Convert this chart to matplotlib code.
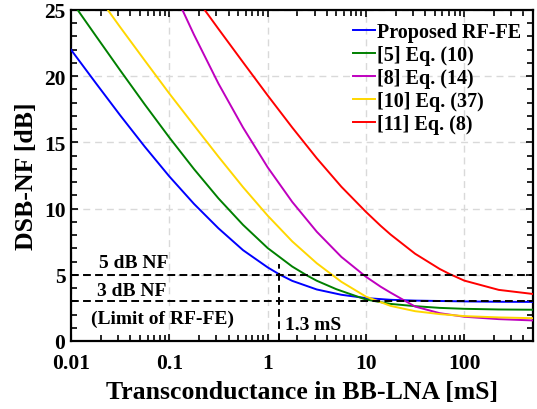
import numpy as np
import matplotlib
matplotlib.use("Agg")
import matplotlib.pyplot as plt
from matplotlib.ticker import LogLocator, MultipleLocator, NullFormatter

# NF curves vs. BB-LNA transconductance (gm in mS, NF in dB)
gm_prop = [0.01, 0.0178, 0.0316, 0.0562, 0.1, 0.178, 0.316, 0.562, 1.0, 1.33, 1.78, 3.16,
           5.62, 10, 17.8, 31.6, 56.2, 100, 224, 500]
nf_prop = [22.0, 19.5, 17.05, 14.68, 12.43, 10.36, 8.51, 6.86, 5.56, 5.01, 4.54, 3.89,
           3.49, 3.24, 3.11, 3.05, 3.02, 2.99, 2.96, 2.95]

gm_ref5 = [0.0117, 0.0178, 0.0316, 0.0562, 0.1, 0.178, 0.316, 0.562, 1.0, 1.78, 2.51, 3.16,
           5.0, 10, 17.8, 31.6, 56.2, 100, 224, 500]
nf_ref5 = [25.0, 23.07, 20.45, 17.87, 15.37, 12.99, 10.77, 8.77, 7.02, 5.62, 4.95, 4.55,
           3.91, 3.13, 2.80, 2.63, 2.50, 2.43, 2.38, 2.36]

gm_ref8 = [0.136, 0.178, 0.316, 0.562, 1.0, 1.78, 3.16, 5.62, 10, 14.1, 17.8, 31.6,
           56.2, 100, 224, 500]
nf_ref8 = [25.0, 23.14, 19.44, 16.12, 13.12, 10.5, 8.25, 6.35, 4.85, 4.1, 3.65, 2.6,
           2.1, 1.83, 1.65, 1.55]

gm_ref10 = [0.0237, 0.0316, 0.0562, 0.1, 0.178, 0.316, 0.562, 1.0, 1.78, 3.16, 4.39, 5.62,
            10, 17.8, 31.6, 56.2, 100, 224, 500]
nf_ref10 = [25.0, 23.71, 21.19, 18.69, 16.29, 13.92, 11.62, 9.47, 7.52, 5.87, 5.07, 4.47,
            3.35, 2.65, 2.25, 2.03, 1.88, 1.78, 1.72]

gm_ref11 = [0.229, 0.316, 0.562, 1.0, 1.78, 3.16, 5.62, 10, 14.1, 17.8, 31.6, 56.2,
            70.8, 100, 224, 500]
nf_ref11 = [25.0, 23.57, 21.05, 18.55, 16.12, 13.8, 11.65, 9.75, 8.7, 8.04, 6.59, 5.44,
            5.06, 4.56, 3.86, 3.55]

labels = ["Proposed RF-FE", "[5] Eq. (10)", "[8] Eq. (14)", "[10] Eq. (37)", "[11] Eq. (8)"]
colors = ["#0000ff", "#008000", "#bf00bf", "#ffd700", "#ff0000"]

xticks = [0.01, 0.1, 1, 10, 100]
xtick_labels = ["0.01", "0.1", "1", "10", "100"]
yticks = [0, 5, 10, 15, 20, 25]

nf_limits = [5, 3]   # dB reference levels
gm_marker = 1.3      # mS where proposed design reaches 5 dB

plt.rcParams["font.family"] = ["Liberation Serif", "DejaVu Serif"]
plt.rcParams["font.weight"] = "bold"

fig = plt.figure(figsize=(5.37, 4.10), dpi=100)
ax = fig.add_axes([0.1322, 0.1659, 0.8604, 0.8073])

curves = [(gm_prop, nf_prop), (gm_ref5, nf_ref5), (gm_ref8, nf_ref8),
          (gm_ref10, nf_ref10), (gm_ref11, nf_ref11)]
for (x, y), lab, c in zip(curves, labels, colors):
    ax.plot(x, y, color=c, lw=1.4, label=lab, zorder=3)

# reference lines
dash = dict(color="black", lw=1.4, ls=(0, (4, 2.2)), zorder=4)
for lvl in nf_limits:
    ax.plot([0.01, 500], [lvl, lvl], **dash)
ax.plot([gm_marker, gm_marker], [0, 5.8], **dash)

ax.text(0.0434, 5.25, "5 dB NF", ha="center", va="bottom", fontsize=14, fontweight="bold")
ax.text(0.041, 3.15, "3 dB NF", ha="center", va="bottom", fontsize=14, fontweight="bold")
ax.text(0.0855, 1.73, "(Limit of RF-FE)", ha="center", va="center", fontsize=14, fontweight="bold")
ax.text(1.5, 1.24, "1.3 mS", ha="left", va="center", fontsize=14, fontweight="bold")

ax.set_xscale("log")
ax.set_xlim(0.01, 500)
ax.set_ylim(0, 25)
ax.set_xticks(xticks)
ax.set_xticklabels(xtick_labels)
ax.xaxis.set_minor_locator(LogLocator(base=10, subs=np.arange(2, 10)))
ax.xaxis.set_minor_formatter(NullFormatter())
ax.set_yticks(yticks)
ax.yaxis.set_minor_locator(MultipleLocator(1))

ax.tick_params(which="both", direction="in", top=True, right=True, width=1.2)
ax.tick_params(which="major", length=5, labelsize=15.5)
ax.tick_params(axis="x", which="major", pad=9)
ax.tick_params(axis="y", which="major", pad=4)
ax.tick_params(which="minor", length=4)
for s in ax.spines.values():
    s.set_linewidth(1.6)

ax.grid(True, which="major", color="#d9d9d9", ls=(0, (5, 3.5)), lw=1.0, zorder=0)

ax.set_xlabel("Transconductance in BB-LNA [mS]", fontsize=18.5, fontweight="bold", labelpad=5)
ax.set_ylabel("DSB-NF [dB]", fontsize=18.5, fontweight="bold", labelpad=4)

leg = ax.legend(loc="upper right", bbox_to_anchor=(1.0, 1.0), frameon=False,
                fontsize=14.5, handlelength=1.1, handletextpad=0.1,
                labelspacing=0.15, borderaxespad=0.2)

fig.savefig("out.png", dpi=100)
